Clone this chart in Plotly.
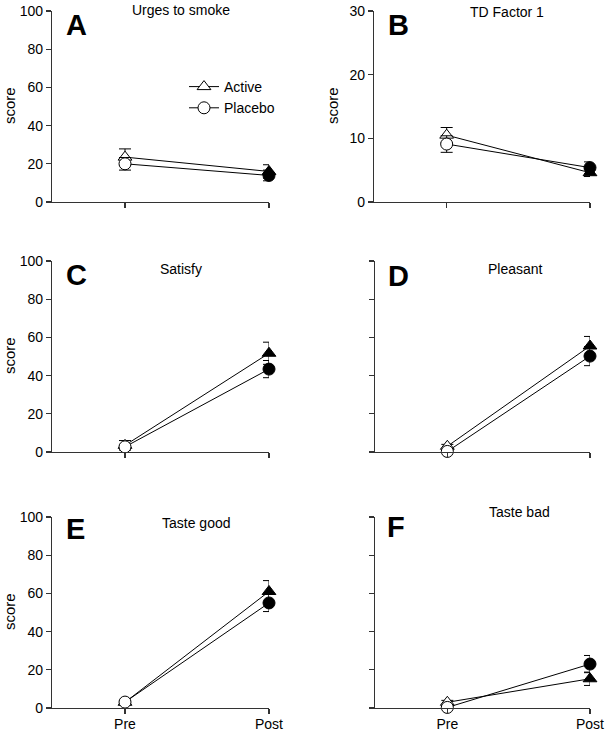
import plotly.graph_objects as go

W, H = 610, 732

panel_letters = ["A", "B", "C", "D", "E", "F"]
panel_titles = ["Urges to smoke", "TD Factor 1", "Satisfy", "Pleasant", "Taste good", "Taste bad"]
timepoints = ["Pre", "Post"]
groups = ["Active", "Placebo"]

active_mean = [[23.5, 16.0], [10.5, 4.6], [3.5, 51.7], [3.0, 55.5], [3.0, 61.0], [3.0, 15.3]]
active_err = [[4.3, 3.5], [1.2, 0.6], [2.5, 5.8], [1.0, 5.0], [1.0, 5.7], [1.0, 3.5]]
placebo_mean = [[20.0, 13.9], [9.1, 5.4], [2.7, 43.4], [0.3, 50.2], [3.1, 55.0], [0.3, 23.0]]
placebo_err = [[3.3, 2.8], [1.3, 0.9], [1.0, 4.5], [0.5, 5.0], [0.5, 4.5], [0.5, 4.5]]

y_max = [100, 30, 100, 100, 100, 100]
y_dtick = [20, 10, 20, 20, 20, 20]

# pixel boxes of panels: (left, right, top, bottom)
boxes = [
    (52, 269, 11, 202), (374, 590, 11, 202),
    (52, 269, 261, 452), (375, 590, 261, 452),
    (52, 269, 517, 708), (375, 590, 517, 708),
]


def px(x):
    return x / W


def py(y):
    return 1 - y / H


FONT = "Liberation Sans, Arial, sans-serif"
AX = "#333333"
symbols = {"Active": "triangle-up", "Placebo": "circle"}

fig = go.Figure()
layout = {}

for i in range(6):
    l, r, t, b = boxes[i]
    xa = "xaxis" if i == 0 else f"xaxis{i+1}"
    ya = "yaxis" if i == 0 else f"yaxis{i+1}"
    xr = "x" if i == 0 else f"x{i+1}"
    yr = "y" if i == 0 else f"y{i+1}"
    show_x = i >= 4
    show_y = i in (0, 1, 2, 4)
    layout[xa] = dict(
        domain=[px(l), px(r)], anchor=yr, range=[-0.507, 1.0],
        tickmode="array", tickvals=[0, 1], ticktext=timepoints,
        showticklabels=show_x, ticks="outside", ticklen=5, tickwidth=1.2,
        tickcolor=AX, showline=True, linecolor=AX, linewidth=1.2,
        showgrid=False, zeroline=False, fixedrange=True, automargin=False,
        ticklabelstandoff=-2,
        tickfont=dict(family=FONT, size=14, color="black"),
    )
    layout[ya] = dict(
        domain=[py(b), py(t)], anchor=xr, range=[0, y_max[i]],
        tickmode="linear", tick0=0, dtick=y_dtick[i],
        showticklabels=show_y, ticks="outside", ticklen=5, tickwidth=1.2,
        tickcolor=AX, showline=True, linecolor=AX, linewidth=1.2,
        showgrid=False, zeroline=False, fixedrange=True, automargin=False,
        tickfont=dict(family=FONT, size=14, color="black"),
    )
    for name, means, errs in (("Active", active_mean, active_err),
                              ("Placebo", placebo_mean, placebo_err)):
        fig.add_trace(go.Scatter(
            x=[0, 1], y=means[i], name=name, xaxis=xr, yaxis=yr,
            mode="lines+markers", cliponaxis=False,
            line=dict(color="black", width=1),
            marker=dict(symbol=symbols[name], size=12, color=["white", "black"],
                        line=dict(color="black", width=1)),
            error_y=dict(type="data", array=errs[i], color="black",
                         thickness=1, width=6),
            showlegend=False,
        ))

# legend entries (open symbols with a short line)
for name in groups:
    fig.add_trace(go.Scatter(
        x=[None], y=[None], name=name, mode="lines+markers",
        line=dict(color="black", width=1),
        marker=dict(symbol=symbols[name], size=12, color="white",
                    line=dict(color="black", width=1)),
        showlegend=True,
    ))

annotations = []
letter_pos = [(76, 25), (398, 25), (76, 275), (398, 276), (75, 529), (396, 527)]
for i in range(6):
    cx, cy = letter_pos[i]
    annotations.append(dict(
        text=f"<b>{panel_letters[i]}</b>", xref="paper", yref="paper",
        x=px(cx), y=py(cy), xanchor="center", yanchor="middle",
        showarrow=False, font=dict(family=FONT, size=29, color="black"),
    ))
title_pos = [(181, 10), (507, 12), (181, 269), (515, 269), (196, 523), (519, 512)]
for i in range(6):
    cx, cy = title_pos[i]
    annotations.append(dict(
        text=panel_titles[i], xref="paper", yref="paper",
        x=px(cx), y=py(cy), xanchor="center", yanchor="middle",
        showarrow=False, font=dict(family=FONT, size=14, color="black"),
    ))
score_pos = [(9, 106), (332, 106), (9, 356), (9, 612)]
for cx, cy in score_pos:
    annotations.append(dict(
        text="score", xref="paper", yref="paper", textangle=-90,
        x=px(cx), y=py(cy), xanchor="center", yanchor="middle",
        showarrow=False, font=dict(family=FONT, size=15, color="black"),
    ))

fig.update_layout(
    **layout,
    width=W, height=H,
    margin=dict(l=0, r=0, t=0, b=0, autoexpand=False),
    paper_bgcolor="white", plot_bgcolor="white",
    annotations=annotations,
    legend=dict(x=px(184), y=py(71), xanchor="left", yanchor="top",
                font=dict(family=FONT, size=14, color="black"),
                bgcolor="rgba(0,0,0,0)", tracegroupgap=0),
    font=dict(family=FONT),
)

fig.write_html(
    "out.html",
    config={"displayModeBar": False, "staticPlot": True},
    post_script="document.body.style.margin='0';document.body.style.overflow='hidden';",
)
